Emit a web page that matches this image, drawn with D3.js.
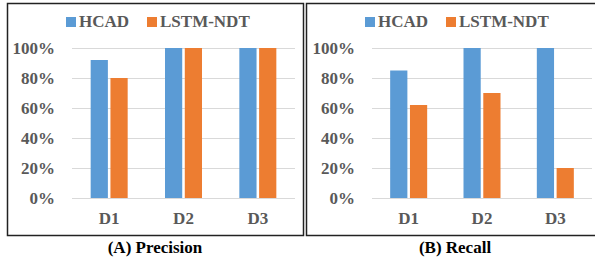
<!DOCTYPE html>
<html>
<head>
<meta charset="utf-8">
<script src="https://cdn.jsdelivr.net/npm/d3@7"></script>
<style>
  body { margin: 0; background: #fff; }
  svg { display: block; }
  svg text { font-family: "Liberation Serif", "Times New Roman", Times, serif !important; font-weight: bold; font-size: 17px; }
</style>
</head>
<body>
<div id="chart"></div>
<script>
var categories = ["D1", "D2", "D3"];
var seriesNames = ["HCAD", "LSTM-NDT"];
var precisionHCAD = [0.92, 1.00, 1.00];
var precisionLSTM = [0.80, 1.00, 1.00];
var recallHCAD = [0.85, 1.00, 1.00];
var recallLSTM = [0.62, 0.70, 0.20];
var yTicks = [0, 0.2, 0.4, 0.6, 0.8, 1.0];
var titles = ["(A) Precision", "(B) Recall"];

var colors = ["#5B9BD5", "#ED7D31"];

var svg = d3.select("#chart").append("svg")
    .attr("width", 595)
    .attr("height", 264);

// panel frames
var panels = [
  {box: [7, 3, 303, 235], plot: [72, 295], labelX: 55, legend: [66, 147], titleX: 155,
   values: [precisionHCAD, precisionLSTM], title: titles[0]},
  {box: [306, 3, 600, 235], plot: [372, 592], labelX: 355, legend: [365, 446], titleX: 455,
   values: [recallHCAD, recallLSTM], title: titles[1]}
];

panels.forEach(function (p) {
  var g = svg.append("g");

  g.append("rect")
      .attr("x", p.box[0] + 0.5)
      .attr("y", p.box[1] + 0.5)
      .attr("width", p.box[2] - p.box[0])
      .attr("height", p.box[3] - p.box[1])
      .attr("fill", "none")
      .attr("stroke", "#222")
      .attr("stroke-width", 1.5);

  var x = d3.scaleBand()
      .domain(categories)
      .range(p.plot);

  var x1 = d3.scaleBand()
      .domain(seriesNames)
      .range([0, 37])
      .paddingInner(0.13);

  var y = d3.scaleLinear()
      .domain([0, 1])
      .range([198, 48]);

  var yAxis = d3.axisLeft(y)
      .tickValues(yTicks)
      .tickSize(-(p.plot[1] - p.plot[0]))
      .tickFormat(d3.format(".0%"));

  var ya = g.append("g")
      .attr("transform", `translate(${p.plot[0]},0)`)
      .call(yAxis);
  ya.select(".domain").remove();
  ya.selectAll(".tick line")
      .attr("stroke", "#d9d9d9")
      .attr("stroke-width", 1.2);
  ya.selectAll(".tick text")
      .attr("x", p.labelX - p.plot[0])
      .attr("dy", "0.35em")
      .attr("fill", "#595959");

  seriesNames.forEach(function (s, si) {
    g.selectAll(".bar" + si)
        .data(categories)
      .enter().append("rect")
        .attr("x", (d) => x(d) + (x.bandwidth() - 37) / 2 + x1(s))
        .attr("width", x1.bandwidth())
        .attr("y", (d, i) => y(p.values[si][i]))
        .attr("height", (d, i) => y(0) - y(p.values[si][i]))
        .attr("fill", colors[si]);
  });

  var xa = g.append("g")
      .attr("transform", "translate(0,198)")
      .call(d3.axisBottom(x).tickSize(0));
  xa.select(".domain").remove();
  xa.selectAll(".tick text")
      .attr("y", 0)
      .attr("dy", "26px")
      .attr("fill", "#595959");

  seriesNames.forEach(function (s, si) {
    g.append("rect")
        .attr("x", p.legend[si])
        .attr("y", 17)
        .attr("width", 10)
        .attr("height", 10)
        .attr("fill", colors[si]);
    g.append("text")
        .attr("x", p.legend[si] + 13)
        .attr("y", 27)
        .attr("fill", "#595959")
        .text(s);
  });

  g.append("text")
      .attr("x", p.titleX)
      .attr("y", 253)
      .attr("text-anchor", "middle")
      .attr("fill", "#000")
      .text(p.title);
});
</script>
</body>
</html>
